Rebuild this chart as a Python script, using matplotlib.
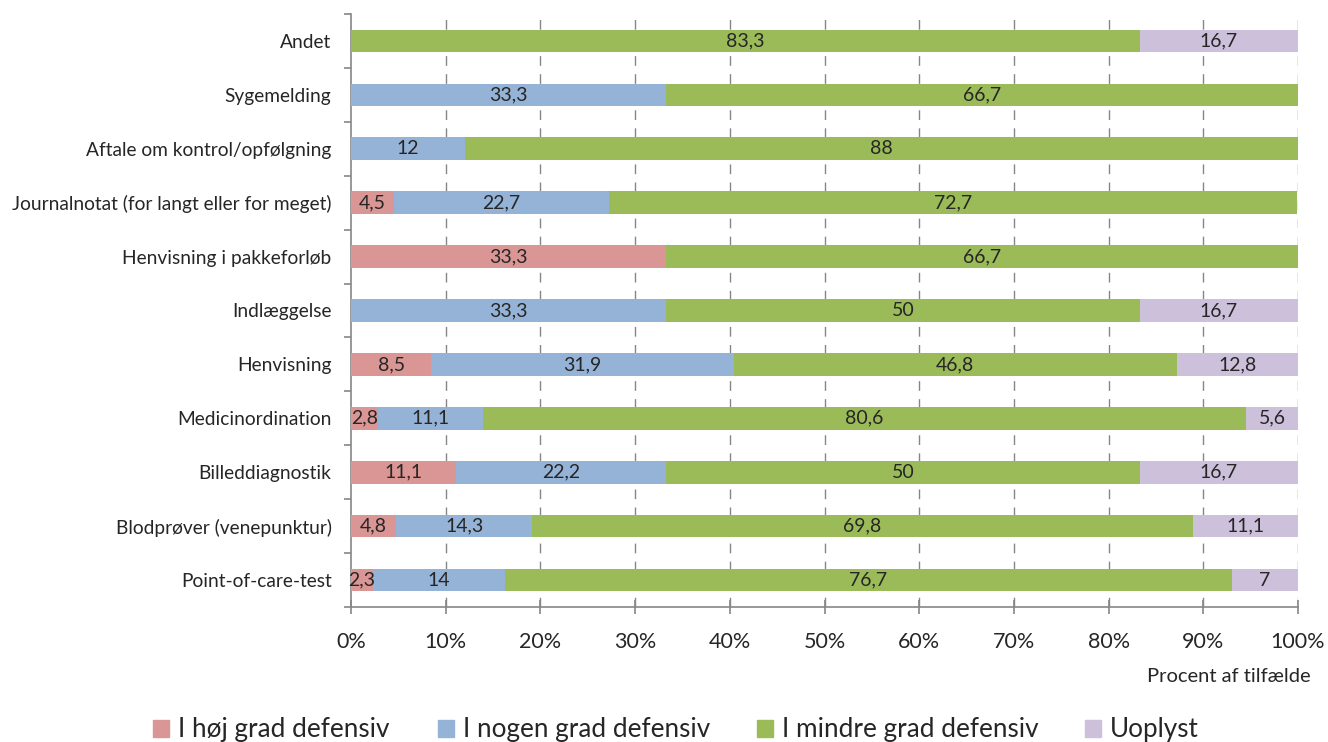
import matplotlib
matplotlib.use("Agg")
import matplotlib.pyplot as plt
from matplotlib.patches import Patch
import numpy as np

plt.rcParams['font.family'] = ['Lato', 'DejaVu Sans']

categories = ["Point-of-care-test", "Blodprøver (venepunktur)", "Billeddiagnostik",
              "Medicinordination", "Henvisning", "Indlæggelse", "Henvisning i pakkeforløb",
              "Journalnotat (for langt eller for meget)", "Aftale om kontrol/opfølgning",
              "Sygemelding", "Andet"]
series_names = ["I høj grad defensiv", "I nogen grad defensiv", "I mindre grad defensiv", "Uoplyst"]
hoej = [2.3, 4.8, 11.1, 2.8, 8.5, 0, 33.3, 4.5, 0, 0, 0]
nogen = [14, 14.3, 22.2, 11.1, 31.9, 33.3, 0, 22.7, 12, 33.3, 0]
mindre = [76.7, 69.8, 50, 80.6, 46.8, 50, 66.7, 72.7, 88, 66.7, 83.3]
uoplyst = [7, 11.1, 16.7, 5.6, 12.8, 16.7, 0, 0, 0, 0, 16.7]
colors = ["#D99694", "#95B3D7", "#9BBB59", "#CCC0DA"]
xtick_labels = ["0%", "10%", "20%", "30%", "40%", "50%", "60%", "70%", "80%", "90%", "100%"]

fig = plt.figure(figsize=(13.28, 7.42), dpi=100)
ax = fig.add_axes([351/1328, 1-607/742, (1298-351)/1328, (607-14)/742])

y = np.arange(len(categories))
left = np.zeros(len(categories))
for vals, col, name in zip([hoej, nogen, mindre, uoplyst], colors, series_names):
    vals = np.array(vals, dtype=float)
    ax.barh(y, vals, left=left, height=0.42, color=col, label=name, zorder=3)
    for yi, l, v in zip(y, left, vals):
        if v > 0:
            ax.text(l + v/2, yi, f"{v:g}".replace('.', ','), ha='center', va='center',
                    fontsize=14, color='#262626', zorder=4)
    left += vals

ax.set_xlim(0, 100)
ax.set_ylim(-0.5, len(categories) - 0.5)
ax.set_xticks(np.arange(0, 101, 10))
ax.set_xticklabels(xtick_labels, fontsize=15.5, color='#262626')
ax.set_yticks(np.arange(-0.5, len(categories), 1))
ax.set_yticklabels([])
ax.set_yticks(y, minor=True)
ax.set_yticklabels(categories, minor=True, fontsize=13.8, color='#262626')
ax.tick_params(axis='y', which='minor', length=0, pad=14)
ax.tick_params(axis='y', which='major', length=5, color='#868686', width=1.2)
ax.tick_params(axis='x', direction='inout', length=10, color='#868686', width=1.2, pad=13)

for x in range(10, 101, 10):
    ax.axvline(x, color='#868686', linestyle=(0, (7, 6)), linewidth=1, zorder=1)

for s in ['top', 'right']:
    ax.spines[s].set_visible(False)
for s in ['left', 'bottom']:
    ax.spines[s].set_color('#868686')
    ax.spines[s].set_linewidth(1.2)

fig.text(1311/1328, 1-676/742, "Procent af tilfælde", ha='right', va='center', fontsize=14.5, color='#262626')

legend_x = [153, 438, 757, 1085]
for name, col, lx in zip(series_names, colors, legend_x):
    fig.legend(handles=[Patch(color=col)], labels=[name], loc='center left',
               bbox_to_anchor=(lx/1328, 1-730/742), frameon=False, fontsize=18.8,
               handlelength=0.61, handleheight=0.61, handletextpad=0.35,
               borderpad=0, borderaxespad=0, labelcolor='#262626')

fig.savefig("out.png", dpi=100)
